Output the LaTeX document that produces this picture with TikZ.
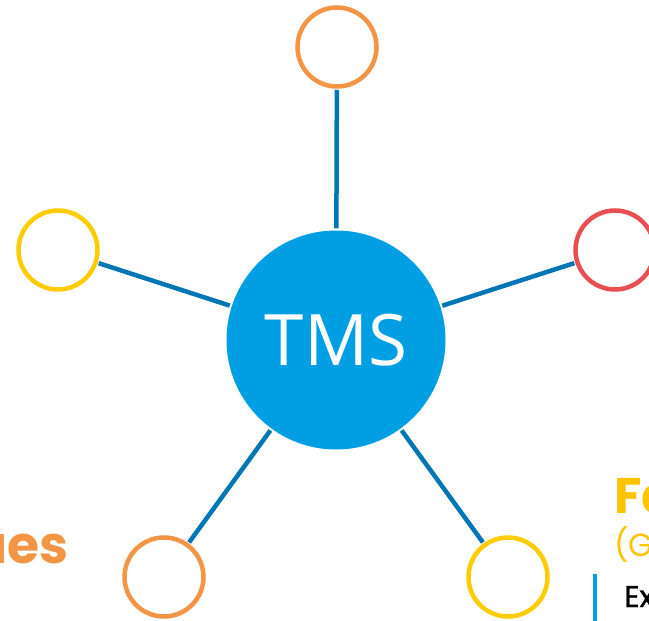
\documentclass[tikz,border=0pt]{standalone}
\usepackage{fontspec}
\setmainfont{Open Sans}
\newfontfamily\pop{Poppins}
\newfontfamily\popmed[FakeBold=1.2]{Poppins}
\definecolor{hubblue}{RGB}{0,159,227}
\definecolor{spoke}{RGB}{0,118,182}
\definecolor{ringorange}{RGB}{243,149,68}
\definecolor{ringyellow}{RGB}{255,204,0}
\definecolor{ringred}{RGB}{232,78,82}
\definecolor{txtyellow}{RGB}{255,196,0}
\pgfdeclarelayer{back}
\pgfsetlayers{back,main}
\begin{document}
\begin{tikzpicture}[x=1pt,y=-1pt,
  hub/.style={circle,fill=hubblue,inner sep=0pt,minimum size=219pt,text=white,font=\fontsize{71}{71}\selectfont},
  ring/.style={circle,draw=#1,line width=4.5pt,fill=white,inner sep=0pt,minimum size=79pt},
  link/.style={draw=spoke,line width=4.5pt,shorten <=1pt,shorten >=2pt},
  caption/.style={inner sep=0pt}]
\useasboundingbox (0,0) rectangle (649,621);
\clip (0,0) rectangle (649,621);
% hub and the five rings around it
\node[hub] (tms) at (336,340) {TMS};
\node[ring=ringorange] (top) at (337,47) {};
\node[ring=ringyellow] (left) at (58,250) {};
\node[ring=ringred] (right) at (615,250) {};
\node[ring=ringorange] (bl) at (164,577) {};
\node[ring=ringyellow] (br) at (508,577) {};
% spokes sit behind the circles
\begin{pgfonlayer}{back}
\foreach \s in {top,left,right,bl,br}
  \path[link] (\s) -- (tms);
\end{pgfonlayer}
% side captions
\node[caption,anchor=base east,text=ringorange,font=\pop\bfseries\fontsize{52}{52}\selectfont] (lcap) at (69,563) {ues};
\node[caption,anchor=base west,text=txtyellow,font=\pop\bfseries\fontsize{50}{50}\selectfont] (rcap) at (614,513) {Fa};
\node[caption,anchor=base west,text=txtyellow,font=\pop\fontsize{32}{32}\selectfont] (rsub) at (614,556) {(G};
\node[caption,anchor=base west,text=black,font=\popmed\fontsize{30}{30}\selectfont] (rex) at (624,607) {Ex};
\coordinate (bartop) at (595,574);
\coordinate (barbot) at (595,621);
\draw[hubblue,line width=4pt] (bartop) -- (barbot);
\end{tikzpicture}
\end{document}
